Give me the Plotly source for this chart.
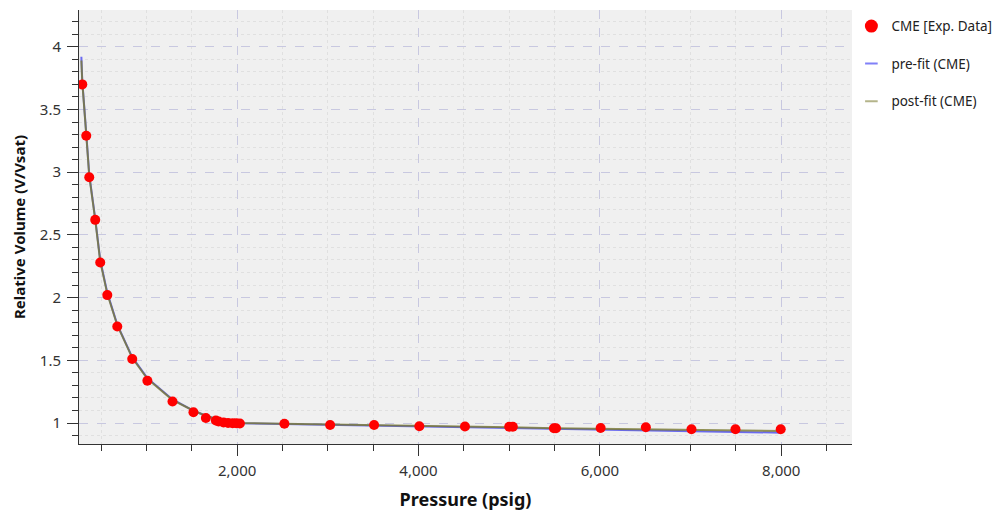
import plotly.graph_objects as go

# CME experimental data: pressure (psig) vs relative volume (V/Vsat)
exp_pressure = [292, 336, 369, 435, 490, 568, 678, 843, 1010, 1287, 1518, 1655,
                1765, 1795, 1850, 1900, 1950, 1990, 2030,
                2521, 3025, 3510, 4009, 4512, 5000, 5040, 5493, 5516,
                6008, 6507, 7010, 7495, 7994]
exp_relvol = [3.70, 3.29, 2.96, 2.62, 2.28, 2.02, 1.77, 1.51, 1.337, 1.172, 1.086, 1.040,
              1.020, 1.012, 1.004, 1.000, 0.998, 0.998, 0.996,
              0.995, 0.984, 0.984, 0.974, 0.972, 0.970, 0.970, 0.958, 0.958,
              0.960, 0.966, 0.951, 0.951, 0.951]

# Model curves (pre-fit / post-fit)
fit_pressure = [282, 292, 336, 369, 435, 490, 568, 678, 843, 1008, 1284, 1515,
                1647, 1757, 1850, 1950, 2020, 2500, 3000, 3500, 4000, 4500,
                5000, 5500, 6000, 6500, 7000, 7500, 8000]
prefit_relvol = [3.92, 3.73, 3.31, 2.98, 2.63, 2.30, 2.04, 1.785, 1.525, 1.36, 1.19, 1.10,
                 1.06, 1.032, 1.012, 1.003, 0.999, 0.993, 0.987, 0.981, 0.973, 0.966,
                 0.960, 0.952, 0.946, 0.940, 0.934, 0.929, 0.923]
postfit_relvol = [3.89, 3.72, 3.30, 2.97, 2.62, 2.29, 2.03, 1.78, 1.52, 1.355, 1.185, 1.10,
                  1.06, 1.035, 1.015, 1.005, 1.0, 0.995, 0.99, 0.985, 0.977, 0.971,
                  0.966, 0.958, 0.953, 0.948, 0.943, 0.939, 0.936]

RED = "#ff0000"
BLUE = "#6a6af0"
OLIVE = "#7a7a30"
FONT = "Noto Sans"

fig = go.Figure()

fig.add_trace(go.Scatter(x=fit_pressure, y=prefit_relvol, mode="lines",
                         line=dict(color=BLUE, width=2), showlegend=False,
                         name="pre-fit (CME)"))
fig.add_trace(go.Scatter(x=fit_pressure, y=postfit_relvol, mode="lines",
                         line=dict(color=OLIVE, width=2), opacity=0.8,
                         showlegend=False, name="post-fit (CME)"))
fig.add_trace(go.Scatter(x=exp_pressure, y=exp_relvol, mode="markers",
                         marker=dict(color=RED, size=10), showlegend=False,
                         name="CME [Exp. Data]"))

# legend entries
fig.add_trace(go.Scatter(x=[None], y=[None], mode="markers", name="CME [Exp. Data]",
                         marker=dict(color=RED, size=13), legendgroup="a"))
fig.add_trace(go.Scatter(x=[None], y=[None], mode="markers", name="pre-fit (CME)",
                         marker=dict(symbol="line-ew-open", size=9, color="#8080f8",
                                     line=dict(color="#8080f8", width=2)),
                         legendgroup="b"))
fig.add_trace(go.Scatter(x=[None], y=[None], mode="markers", name="post-fit (CME)",
                         marker=dict(symbol="line-ew-open", size=9, color="#b4b48a",
                                     line=dict(color="#b4b48a", width=2)),
                         legendgroup="c"))

grid_major = "#c8c8e0"
grid_minor = "#e0e0e0"

fig.update_layout(
    width=1004, height=513,
    margin=dict(l=79, r=152, t=10, b=69, autoexpand=False),
    paper_bgcolor="white",
    plot_bgcolor="#f0f0f0",
    font=dict(family=FONT, size=13, color="#333333"),
    legend=dict(xref="container", yref="container", x=0.848, y=0.979,
                xanchor="left", yanchor="top", traceorder="grouped",
                tracegroupgap=17, font=dict(size=13.5, color="#222222"),
                bgcolor="rgba(0,0,0,0)", itemwidth=30),
    xaxis=dict(
        range=[256, 8780], dtick=2000, tick0=0, tickformat=",d",
        showline=True, linecolor="#333333", linewidth=1,
        ticks="outside", ticklen=11, tickcolor="#333333",
        showgrid=True, gridcolor=grid_major, griddash="dash", gridwidth=1,
        zeroline=False, automargin=False,
        minor=dict(dtick=500, tick0=0, ticks="outside", ticklen=6,
                   tickcolor="#333333", showgrid=True, gridcolor=grid_minor,
                   griddash="dot"),
        title=dict(text="<b>Pressure (psig)</b>", font=dict(size=18, color="#111111"),
                   standoff=14),
        tickfont=dict(size=15, color="#333333"),
        ticklabelstandoff=2,
    ),
    yaxis=dict(
        range=[0.833, 4.293], dtick=0.5, tick0=0,
        showline=True, linecolor="#333333", linewidth=1,
        ticks="outside", ticklen=11, tickcolor="#333333",
        showgrid=True, gridcolor=grid_major, griddash="dash", gridwidth=1,
        zeroline=False, automargin=False,
        minor=dict(dtick=0.1, tick0=0, ticks="outside", ticklen=6,
                   tickcolor="#333333", showgrid=True, gridcolor=grid_minor,
                   griddash="dot"),
        title=dict(text="<b>Relative Volume (V/Vsat)</b>",
                   font=dict(size=15, color="#111111"), standoff=10),
        tickfont=dict(size=15, color="#333333"),
        ticklabelstandoff=3,
    ),
)

fig.write_html("out.html")
